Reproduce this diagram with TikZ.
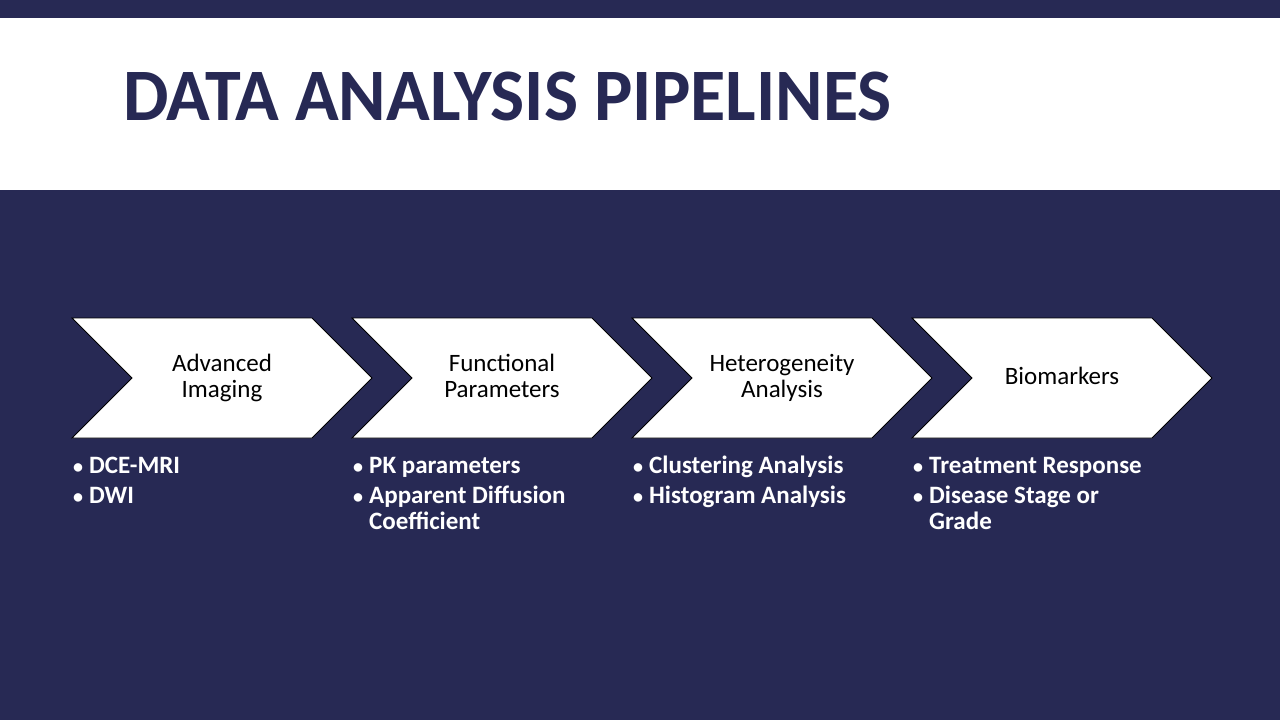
\documentclass[tikz,border=0pt]{standalone}
\usepackage{fontspec}
\setmainfont{Carlito}
\definecolor{navy}{RGB}{39,41,84}
\newcommand{\ctab}[1]{\begin{tabular}[t]{@{}c@{}}#1\end{tabular}}
\newcommand{\ltab}[1]{\begin{tabular}[t]{@{}l@{}}#1\end{tabular}}
\begin{document}
\begin{tikzpicture}[x=1pt,y=-1pt,
  chev/.style={fill=white,draw=black,line width=0.8pt},
  chevtext/.style={anchor=base,inner sep=0pt,text=black,font=\fontsize{25}{26}\selectfont},
  bul/.style={anchor=base west,inner sep=0pt,text=white,font=\fontsize{20}{26}\selectfont\bfseries},
  item/.style={anchor=base west,inner sep=0pt,text=white,font=\fontsize{25}{26}\selectfont\bfseries}]
\useasboundingbox (0,0) rectangle (1280,720);
\fill[navy] (0,0) rectangle (1280,720);
\fill[white] (0,18) rectangle (1280,190);
\node[anchor=base west,inner sep=0pt,text=navy,font=\fontsize{74}{80}\selectfont\bfseries] (title) at (123,120) {\scalebox{0.975}[1]{DATA ANALYSIS PIPELINES}};
% chevrons
\foreach \x/\nm/\y/\txt in {72/c1/371/{Advanced\\Imaging},352/c2/371/{Functional\\Parameters},632/c3/371/{Heterogeneity\\Analysis},912/c4/384/{Biomarkers}}{
  \draw[chev] (\x,318) -- (\x+240,318) -- (\x+300,378) -- (\x+240,438) -- (\x,438) -- (\x+60,378) -- cycle;
  \node[chevtext] (\nm) at (\x+150,\y) {\ctab{\txt}};
}
% bullets column 1
\node[bul] (b11) at (73,473) {•};
\node[item] (t11) at (89,473) {DCE-MRI};
\node[bul] (b12) at (73,503) {•};
\node[item] (t12) at (89,503) {DWI};
% column 2
\node[bul] (b21) at (353,473) {•};
\node[item] (t21) at (369,473) {PK parameters};
\node[bul] (b22) at (353,503) {•};
\node[item] (t22) at (369,503) {\ltab{Apparent Diffusion\\Coefficient}};
% column 3
\node[bul] (b31) at (633,473) {•};
\node[item] (t31) at (649,473) {Clustering Analysis};
\node[bul] (b32) at (633,503) {•};
\node[item] (t32) at (649,503) {Histogram Analysis};
% column 4
\node[bul] (b41) at (913,473) {•};
\node[item] (t41) at (929,473) {Treatment Response};
\node[bul] (b42) at (913,503) {•};
\node[item] (t42) at (929,503) {\ltab{Disease Stage or\\Grade}};
\end{tikzpicture}
\end{document}
